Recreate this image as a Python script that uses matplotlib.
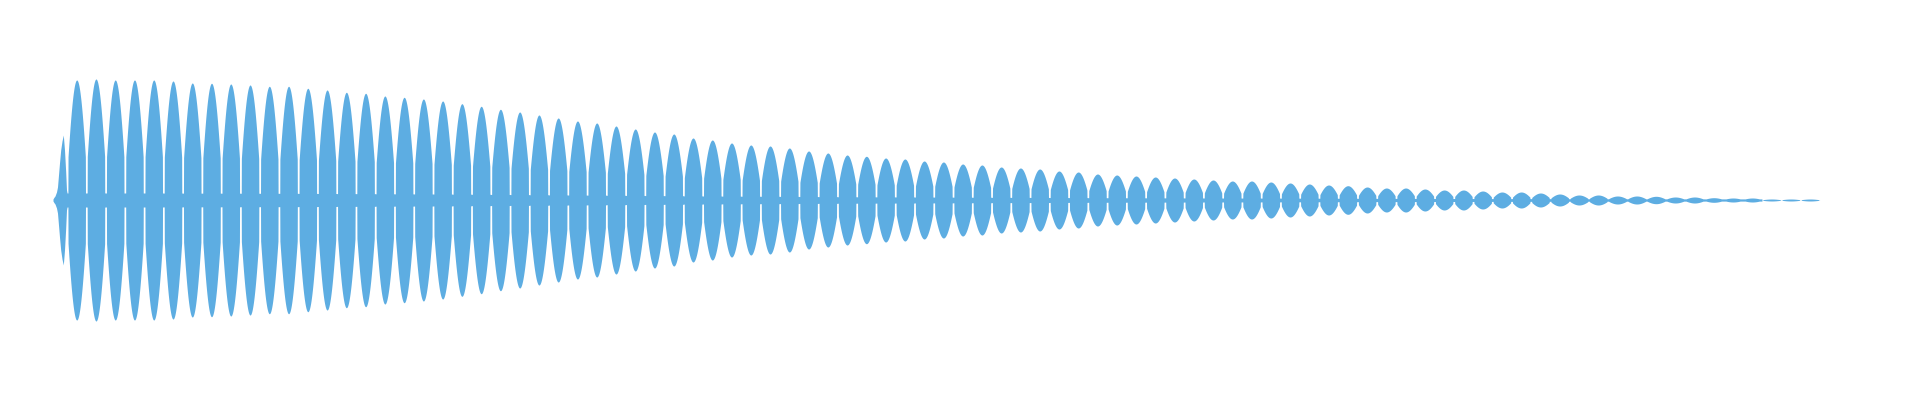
import numpy as np
import matplotlib
matplotlib.use("Agg")
import matplotlib.pyplot as plt

# Peak amplitude of each lobe of the waveform envelope (lobe 1 .. 91)
lobe_peaks = [
    120, 121, 120, 120, 120, 119, 117, 116.7, 116, 115, 113.7, 113.7, 111.7, 110,
    107.7, 106.7, 104, 102.7, 101, 99, 96.3,
    93.7, 90.7, 88, 85, 82, 79, 77, 74, 71, 68, 66, 62, 60, 57, 55, 54, 52, 49,
    47, 45, 43.7, 42, 41,
    39, 38, 36, 35, 33, 32, 31, 29, 28, 26, 25, 24, 23, 22, 21, 20, 19, 19, 18,
    17, 16, 15,
    14.3, 13, 12, 12, 11, 10, 10, 9, 8, 8, 7, 6, 5, 5, 4, 4, 3.7, 3, 3, 2.3, 2,
    2, 1, 1, 1,
]

# Fade-in at the very start (position in lobe units, amplitude)
intro_pos = [-0.231, -0.179, -0.127, -0.049, 0.003, 0.055, 0.107, 0.169,
             0.237, 0.304, 0.367, 0.429, 0.470]
intro_amp = [1, 2.7, 4, 8, 13, 25, 37, 50, 59, 65, 50, 28, 10]

COLOR = "#5DADE2"

xs = [np.array(intro_pos, dtype=float)]
ys = [np.array(intro_amp, dtype=float)]
t = np.linspace(0.0, 1.0, 161)
s = (t - 0.5) * 0.85 + 0.5
for i, pk in enumerate(lobe_peaks, start=1):
    env = pk * np.sin(np.pi * s)
    floor = 0.05 * pk + (1.0 if pk >= 2 else 0.0)
    env = np.maximum(env, floor)
    edge = (t < 0.045) | (t > 0.955)
    env[edge] = floor
    xs.append(i - 0.5 + t)
    ys.append(env)

x = np.concatenate(xs)
y = np.concatenate(ys)

fig = plt.figure(figsize=(19.2, 4.0), dpi=100)
ax = fig.add_axes([0, 0, 1, 1])
ax.fill_between(x, -y, y, color=COLOR, linewidth=0, antialiased=True)

P = 19.26
x_first = 76.7
ax.set_xlim(1 - x_first / P, 1 + (1920 - x_first) / P)
ax.set_ylim(-200, 200)
ax.axis("off")
fig.savefig("out.png", dpi=100, facecolor="white")
